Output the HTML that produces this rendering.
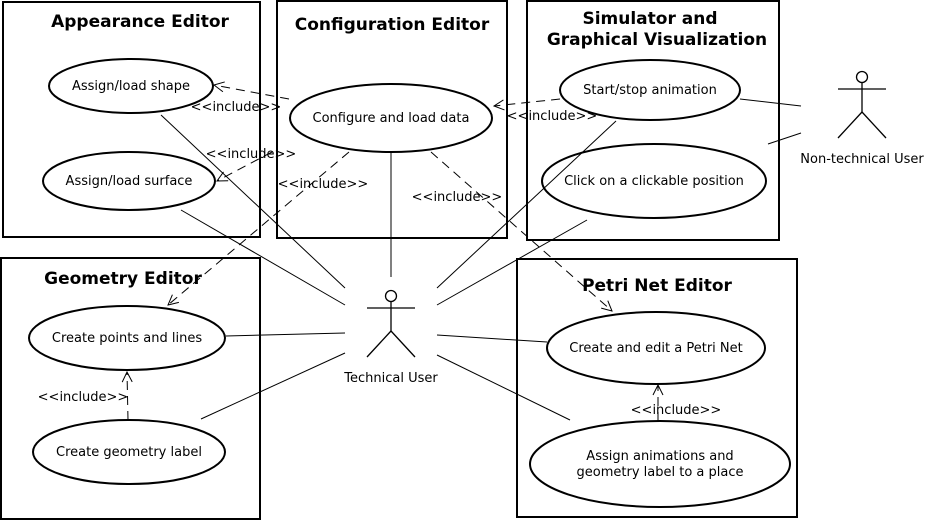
<!DOCTYPE html>
<html><head><meta charset="utf-8"><style>
html,body{margin:0;padding:0;background:#fff;}
svg{display:block;}
text{font-family:"DejaVu Sans","Liberation Sans",sans-serif;fill:#000;}
.t{font-size:17px;font-weight:bold;text-anchor:middle;}
.u{font-size:13px;text-anchor:middle;}
.i{font-size:13px;text-anchor:middle;}
</style></head><body>
<svg width="931" height="520" viewBox="0 0 931 520" xmlns="http://www.w3.org/2000/svg">
<defs>
<marker id="a" markerWidth="12" markerHeight="12" refX="11" refY="6" orient="auto" markerUnits="userSpaceOnUse">
<path d="M1,1 L11,6 L1,11" fill="none" stroke="#000" stroke-width="1"/>
</marker>
</defs>
<g fill="none" stroke="#000" stroke-width="2">
<rect x="3" y="2" width="257" height="235"/>
<rect x="277" y="1" width="230" height="237"/>
<rect x="527" y="1" width="252" height="239"/>
<rect x="1" y="258" width="259" height="261"/>
<rect x="517" y="259" width="280" height="258"/>
<ellipse cx="131" cy="86" rx="82" ry="27"/>
<ellipse cx="129" cy="181" rx="86" ry="29"/>
<ellipse cx="391" cy="118" rx="101" ry="34"/>
<ellipse cx="650" cy="90" rx="90" ry="30"/>
<ellipse cx="654" cy="181" rx="112" ry="37"/>
<ellipse cx="127" cy="338" rx="98" ry="32"/>
<ellipse cx="129" cy="452" rx="96" ry="32"/>
<ellipse cx="656" cy="348" rx="109" ry="36"/>
<ellipse cx="660" cy="464" rx="130" ry="43"/>
</g>
<g fill="none" stroke="#000" stroke-width="1">
<line x1="161" y1="115" x2="345" y2="288"/>
<line x1="181" y1="210" x2="345" y2="305"/>
<line x1="391" y1="152" x2="391" y2="277"/>
<line x1="226" y1="336" x2="345" y2="333"/>
<line x1="201" y1="419" x2="345" y2="353"/>
<line x1="616" y1="121" x2="437" y2="288"/>
<line x1="587" y1="220" x2="437" y2="305"/>
<line x1="437" y1="335" x2="547" y2="342"/>
<line x1="437" y1="355" x2="570" y2="420"/>
<line x1="740" y1="99" x2="801" y2="106"/>
<line x1="768" y1="144" x2="801" y2="133"/>
</g>
<g fill="none" stroke="#000" stroke-width="1" stroke-dasharray="9,6" marker-end="url(#a)">
<line x1="289" y1="99" x2="214" y2="85"/>
<line x1="272" y1="152" x2="217" y2="181"/>
<line x1="349" y1="152" x2="168" y2="305"/>
<line x1="431" y1="152" x2="612" y2="311"/>
<line x1="560" y1="99" x2="494" y2="106"/>
<line x1="128" y1="420" x2="127" y2="372"/>
<line x1="658" y1="421" x2="658" y2="385"/>
</g>
<g fill="none" stroke="#000" stroke-width="1.3">
<circle cx="391" cy="296" r="5.5"/>
<line x1="391" y1="302" x2="391" y2="331"/>
<line x1="367" y1="308" x2="415" y2="308"/>
<line x1="391" y1="331" x2="367" y2="357"/>
<line x1="391" y1="331" x2="415" y2="357"/>
<circle cx="862" cy="77" r="5.5"/>
<line x1="862" y1="83" x2="862" y2="112"/>
<line x1="838" y1="89" x2="886" y2="89"/>
<line x1="862" y1="112" x2="838" y2="138"/>
<line x1="862" y1="112" x2="886" y2="138"/>
</g>
<text class="t" x="140" y="27">Appearance Editor</text>
<text class="t" x="392" y="30">Configuration Editor</text>
<text class="t" x="650" y="24">Simulator and</text>
<text class="t" x="657" y="45">Graphical Visualization</text>
<text class="t" x="123" y="284">Geometry Editor</text>
<text class="t" x="657" y="291">Petri Net Editor</text>
<text class="u" x="131" y="90">Assign/load shape</text>
<text class="u" x="129" y="185">Assign/load surface</text>
<text class="u" x="391" y="122">Configure and load data</text>
<text class="u" x="650" y="94">Start/stop animation</text>
<text class="u" x="654" y="185">Click on a clickable position</text>
<text class="u" x="127" y="342">Create points and lines</text>
<text class="u" x="129" y="456">Create geometry label</text>
<text class="u" x="656" y="352">Create and edit a Petri Net</text>
<text class="u" x="660" y="460">Assign animations and</text>
<text class="u" x="660" y="476">geometry label to a place</text>
<text class="u" x="391" y="382">Technical User</text>
<text class="u" x="862" y="163">Non-technical User</text>
<text class="i" x="236" y="111">&lt;&lt;include&gt;&gt;</text>
<text class="i" x="251" y="158">&lt;&lt;include&gt;&gt;</text>
<text class="i" x="323" y="188">&lt;&lt;include&gt;&gt;</text>
<text class="i" x="457" y="201">&lt;&lt;include&gt;&gt;</text>
<text class="i" x="552" y="120">&lt;&lt;include&gt;&gt;</text>
<text class="i" x="83" y="401">&lt;&lt;include&gt;&gt;</text>
<text class="i" x="676" y="414">&lt;&lt;include&gt;&gt;</text>
</svg>
</body></html>
